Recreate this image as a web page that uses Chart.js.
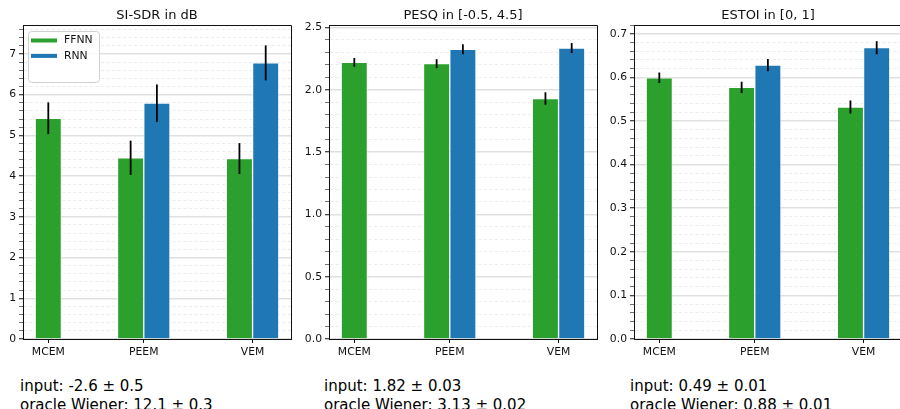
<!DOCTYPE html>
<html>
<head>
<meta charset="utf-8">
<script src="https://cdn.jsdelivr.net/npm/chart.js@4.4.1/dist/chart.umd.min.js"></script>
<style>
  html, body { margin: 0; padding: 0; background: #fff; }
  body { width: 900px; height: 409px; position: relative; overflow: hidden; font-family: 'DejaVu Sans', sans-serif; }
  canvas { position: absolute; top: 1px; }
  .note { position: absolute; top: 377px; font-size: 15px; line-height: 18.5px; color: #000; white-space: nowrap; }
</style>
</head>
<body>
<canvas id="sdrChart"   width="312" height="368" style="left:-17px"></canvas>
<canvas id="pesqChart"  width="312" height="368" style="left:289px"></canvas>
<canvas id="estoiChart" width="312" height="368" style="left:594px"></canvas>
<div class="note" id="note0" style="left:20px"></div>
<div class="note" id="note1" style="left:324px"></div>
<div class="note" id="note2" style="left:630px"></div>

<script>
// methods on the x axis, and where each group sits
var CATEGORIES = ['MCEM', 'PEEM', 'VEM'];
var CAT_POS    = [0, 1, 2.14];
var BAR_W      = 0.275;

// SI-SDR (dB)
var SDR_FFNN      = [5.42, 4.45, 4.43];
var SDR_FFNN_ERR  = [0.39, 0.42, 0.38];
var SDR_RNN       = [null, 5.79, 6.78];
var SDR_RNN_ERR   = [null, 0.46, 0.43];

// PESQ
var PESQ_FFNN     = [2.22, 2.21, 1.93];
var PESQ_FFNN_ERR = [0.035, 0.036, 0.05];
var PESQ_RNN      = [null, 2.325, 2.335];
var PESQ_RNN_ERR  = [null, 0.04, 0.04];

// ESTOI
var ESTOI_FFNN     = [0.599, 0.577, 0.532];
var ESTOI_FFNN_ERR = [0.012, 0.013, 0.015];
var ESTOI_RNN      = [null, 0.628, 0.668];
var ESTOI_RNN_ERR  = [null, 0.014, 0.015];

// per-panel axis setup
var TITLES   = ['SI-SDR in dB', 'PESQ in [-0.5, 4.5]', 'ESTOI in [0, 1]'];
var Y_MAX    = [7.71, 2.52, 0.72];
var Y_MAJOR  = [1, 0.5, 0.1];
var Y_MINOR  = [0.2, 0.1, 0.02];
var Y_DIGITS = [0, 1, 1];

// reference scores printed under each panel
var INPUT_SCORES  = ['-2.6 ± 0.5', '1.82 ± 0.03', '0.49 ± 0.01'];
var ORACLE_SCORES = ['12.1 ± 0.3', '3.13 ± 0.02', '0.88 ± 0.01'];

var GREEN = '#2ca02c';
var BLUE  = '#1f77b4';
var FONT  = "'DejaVu Sans', sans-serif";
var INK   = '#111';
var TICK_SIZE = 10.8;

Chart.defaults.font.family = FONT;
Chart.defaults.color = INK;
Chart.defaults.animation = false;

// bar centres: a lone bar sits on its tick, a pair straddles it
function barSeries(vals, errs, other, side) {
    var pts = [], es = [];
    vals.forEach(function(v, i) {
        if (v == null) return;
        var paired = other[i] != null;
        pts.push({ x: CAT_POS[i] + (paired ? side * BAR_W / 2 : 0), y: v });
        es.push(errs[i]);
    });
    return { pts: pts, errs: es };
}

function isMajor(v, step) {
    var r = v / step;
    return Math.abs(r - Math.round(r)) < 1e-6;
}

var errorBars = {
    id: 'errorBars',
    afterDatasetsDraw: function(chart) {
        var ctx = chart.ctx, y = chart.scales.y;
        ctx.save();
        ctx.strokeStyle = '#000';
        ctx.lineWidth = 1.8;
        chart.data.datasets.forEach(function(ds, di) {
            chart.getDatasetMeta(di).data.forEach(function(bar, i) {
                var v = ds.data[i].y, e = ds.errors[i];
                ctx.beginPath();
                ctx.moveTo(bar.x, y.getPixelForValue(v - e));
                ctx.lineTo(bar.x, y.getPixelForValue(v + e));
                ctx.stroke();
            });
        });
        ctx.restore();
    }
};

// top and right spines
var boxFrame = {
    id: 'boxFrame',
    afterDatasetsDraw: function(chart) {
        var a = chart.chartArea, ctx = chart.ctx;
        ctx.save();
        ctx.strokeStyle = INK;
        ctx.lineWidth = 1;
        ctx.beginPath();
        ctx.moveTo(Math.round(a.left) + 0.5, Math.round(a.top) + 0.5);
        ctx.lineTo(Math.round(a.right) + 0.5, Math.round(a.top) + 0.5);
        ctx.lineTo(Math.round(a.right) + 0.5, Math.round(a.bottom) + 0.5);
        ctx.stroke();
        ctx.restore();
    }
};

// framed legend in the upper-left corner of the plot
var cornerLegend = {
    id: 'cornerLegend',
    afterDatasetsDraw: function(chart) {
        var a = chart.chartArea, ctx = chart.ctx;
        var fx = a.left + 5, fy = a.top + 6, fw = 71, fh = 51;
        ctx.save();
        ctx.fillStyle = 'rgba(255,255,255,0.8)';
        ctx.strokeStyle = '#d0d0d0';
        ctx.lineWidth = 1;
        ctx.beginPath();
        ctx.roundRect(fx + 0.5, fy + 0.5, fw, fh, 3);
        ctx.fill();
        ctx.stroke();
        ctx.font = TICK_SIZE + 'px ' + FONT;
        ctx.textBaseline = 'middle';
        chart.data.datasets.forEach(function(ds, i) {
            var cy = fy + 9.5 + i * 15.4;
            ctx.fillStyle = ds.backgroundColor;
            ctx.fillRect(fx + 3, cy - 2, 26, 4);
            ctx.fillStyle = INK;
            ctx.fillText(ds.label, fx + 36, cy);
        });
        ctx.restore();
    }
};

function makePanel(canvasId, k, ffnn, ffnnErr, rnn, rnnErr, withLegend) {
    var el = document.getElementById(canvasId);
    var f = barSeries(ffnn, ffnnErr, rnn, -1);
    var r = barSeries(rnn, rnnErr, ffnn, 1);

    // x limits: bar extents plus a 5% margin on each side
    var xs = f.pts.concat(r.pts).map(function(p) { return p.x; });
    var lo = Math.min.apply(null, xs) - BAR_W / 2;
    var hi = Math.max.apply(null, xs) + BAR_W / 2;
    var pad = 0.05 * (hi - lo);

    var yMax = Y_MAX[k], major = Y_MAJOR[k], minor = Y_MINOR[k];

    var barWidth = function(c) {
        var x = c.chart.scales.x;
        if (!x || !x.width) return 1;
        return x.getPixelForValue(BAR_W) - x.getPixelForValue(0);
    };

    var plugins = [errorBars, boxFrame];
    if (withLegend) plugins.push(cornerLegend);

    new Chart(el.getContext('2d'), {
        type: 'bar',
        data: {
            datasets: [
                { label: 'FFNN', data: f.pts, errors: f.errs, backgroundColor: GREEN, borderColor: 'rgba(255,255,255,0.45)', borderWidth: 1, grouped: false, barThickness: barWidth },
                { label: 'RNN',  data: r.pts, errors: r.errs, backgroundColor: BLUE,  borderColor: 'rgba(255,255,255,0.45)', borderWidth: 1, grouped: false, barThickness: barWidth }
            ]
        },
        plugins: plugins,
        options: {
            responsive: false,
            layout: { padding: { left: 0, right: 4, top: 0, bottom: 0 } },
            plugins: {
                legend: { display: false },
                tooltip: { enabled: false },
                title: {
                    display: true, text: TITLES[k], fullSize: false, color: INK,
                    font: { size: 13, weight: 'normal' },
                    padding: { top: 6.5, bottom: 1.9 }
                }
            },
            scales: {
                x: {
                    type: 'linear', min: lo - pad, max: hi + pad, offset: false,
                    afterBuildTicks: function(s) { s.ticks = CAT_POS.map(function(v) { return { value: v }; }); },
                    afterFit: function(s) { s.height = 30; },
                    ticks: { autoSkip: false, maxRotation: 0, padding: 3, font: { size: TICK_SIZE }, color: INK,
                             callback: function(v, i) { return CATEGORIES[i]; } },
                    grid: { offset: false, drawOnChartArea: false, tickLength: 4, tickColor: INK },
                    border: { color: INK, width: 1 }
                },
                y: {
                    type: 'linear', min: 0, max: yMax,
                    afterBuildTicks: function(s) {
                        var t = [];
                        for (var i = 0; i * minor <= yMax + 1e-9; i++) t.push({ value: Math.round(i * minor * 1e6) / 1e6 });
                        s.ticks = t;
                    },
                    afterFit: function(s) { s.width = 40; },
                    ticks: { autoSkip: false, padding: 3, font: { size: TICK_SIZE }, color: INK,
                             callback: function(v) { return isMajor(v, major) ? v.toFixed(Y_DIGITS[k]) : ''; } },
                    grid: {
                        tickLength: 4,
                        color: function(c) { return c.tick && isMajor(c.tick.value, major) ? 'rgba(0,0,0,0.12)' : 'rgba(0,0,0,0.09)'; },
                        lineWidth: function(c) { return c.tick && isMajor(c.tick.value, major) ? 1.5 : 0.8; },
                        tickColor: INK,
                        tickWidth: function(c) { return c.tick && isMajor(c.tick.value, major) ? 1 : 0.6; }
                    },
                    border: {
                        color: INK, width: 1,
                        dash: function(c) { return c.tick && !isMajor(c.tick.value, major) ? [3, 2.5] : []; }
                    }
                }
            }
        }
    });
}

(function() {
    if (typeof Chart === 'undefined') { console.error('Chart.js not loaded'); return; }
    makePanel('sdrChart',   0, SDR_FFNN,   SDR_FFNN_ERR,   SDR_RNN,   SDR_RNN_ERR,   true);
    makePanel('pesqChart',  1, PESQ_FFNN,  PESQ_FFNN_ERR,  PESQ_RNN,  PESQ_RNN_ERR,  false);
    makePanel('estoiChart', 2, ESTOI_FFNN, ESTOI_FFNN_ERR, ESTOI_RNN, ESTOI_RNN_ERR, false);
    for (var k = 0; k < 3; k++) {
        var n = document.getElementById('note' + k);
        n.appendChild(document.createTextNode('input: ' + INPUT_SCORES[k]));
        n.appendChild(document.createElement('br'));
        n.appendChild(document.createTextNode('oracle Wiener: ' + ORACLE_SCORES[k]));
    }
})();
</script>
</body>
</html>
